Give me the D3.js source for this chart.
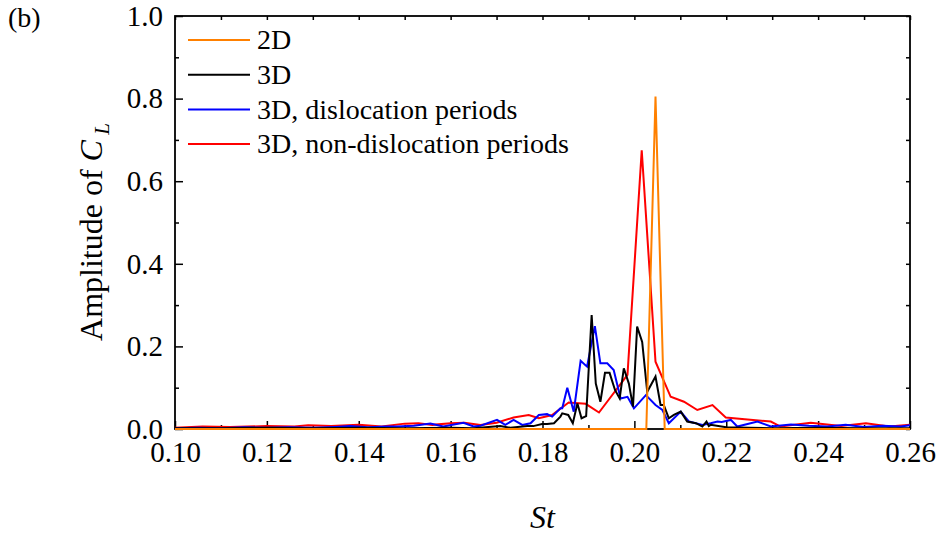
<!DOCTYPE html>
<html>
<head>
<meta charset="utf-8">
<script src="https://cdn.jsdelivr.net/npm/d3@7"></script>
<style>
  body { margin: 0; background: #fff; }
  .axis path { display: none; }
  .axis line { stroke: #000; stroke-width: 1.5; }
</style>
</head>
<body>
<svg id="chart" width="942" height="535"></svg>
<script>
const xMajor = [0.10, 0.12, 0.14, 0.16, 0.18, 0.20, 0.22, 0.24, 0.26];
const xMinor = [0.11, 0.13, 0.15, 0.17, 0.19, 0.21, 0.23, 0.25];
const yMajor = [0.0, 0.2, 0.4, 0.6, 0.8, 1.0];
const yMinor = [0.1, 0.3, 0.5, 0.7, 0.9];

const legendLabels = ["2D", "3D", "3D, dislocation periods", "3D, non-dislocation periods"];
const seriesColors = ["#ff8000", "#000000", "#0000ff", "#ff0000"];

// [St, amplitude]
const series2D = [
  [0.100, 0], [0.2026, 0], [0.2046, 0.805], [0.2066, 0], [0.260, 0]
];

const series3D = [
  [0.100, 0.002], [0.110, 0.002], [0.120, 0.003], [0.130, 0.002], [0.140, 0.003],
  [0.150, 0.002], [0.160, 0.003], [0.165, 0.002], [0.1708, 0.007], [0.173, 0.003],
  [0.1767, 0.007], [0.1780, 0.007], [0.1799, 0.012], [0.1810, 0.012], [0.1825, 0.014],
  [0.1839, 0.030], [0.1843, 0.038], [0.1856, 0.034], [0.1866, 0.014], [0.1876, 0.062],
  [0.1885, 0.026], [0.1895, 0.031], [0.1907, 0.276], [0.1916, 0.110], [0.1926, 0.066],
  [0.1936, 0.136], [0.1946, 0.136], [0.1958, 0.094], [0.1968, 0.074], [0.1977, 0.147],
  [0.1988, 0.110], [0.1997, 0.054], [0.2006, 0.248], [0.2017, 0.211], [0.2028, 0.090],
  [0.2046, 0.127], [0.2057, 0.058], [0.2064, 0.058], [0.2075, 0.026], [0.2086, 0.034],
  [0.2101, 0.042], [0.2115, 0.018], [0.2134, 0.014], [0.2148, 0.006], [0.2157, 0.018],
  [0.2162, 0.007], [0.2166, 0.010], [0.220, 0.004], [0.225, 0.003], [0.230, 0.002],
  [0.240, 0.003], [0.250, 0.002], [0.260, 0.002]
];

const series3DDisloc = [
  [0.100, 0.002], [0.105, 0.003], [0.110, 0.002], [0.115, 0.004], [0.120, 0.003],
  [0.125, 0.004], [0.130, 0.003], [0.135, 0.005], [0.1381, 0.007], [0.142, 0.004],
  [0.146, 0.006], [0.1483, 0.006], [0.152, 0.008], [0.1556, 0.013], [0.1584, 0.006],
  [0.1628, 0.015], [0.1650, 0.006], [0.1665, 0.008], [0.1701, 0.022], [0.1719, 0.010],
  [0.1737, 0.022], [0.1756, 0.010], [0.1774, 0.014], [0.1792, 0.034], [0.1810, 0.036],
  [0.1821, 0.030], [0.1839, 0.050], [0.1843, 0.050], [0.1854, 0.100], [0.1868, 0.042],
  [0.1883, 0.165], [0.1897, 0.151], [0.1914, 0.249], [0.1926, 0.159], [0.1941, 0.159],
  [0.1955, 0.143], [0.1970, 0.074], [0.1985, 0.078], [0.1999, 0.050], [0.2025, 0.082],
  [0.2046, 0.058], [0.2061, 0.046], [0.2075, 0.014], [0.2101, 0.042], [0.2119, 0.018],
  [0.2148, 0.010], [0.2166, 0.014], [0.2181, 0.018], [0.2190, 0.017], [0.2210, 0.022],
  [0.2224, 0.006], [0.2268, 0.018], [0.2297, 0.006], [0.2341, 0.011], [0.238, 0.008],
  [0.242, 0.006], [0.246, 0.010], [0.250, 0.005], [0.254, 0.008], [0.258, 0.006],
  [0.260, 0.009]
];

const series3DNonDisloc = [
  [0.100, 0.003], [0.106, 0.006], [0.112, 0.005], [0.120, 0.007], [0.126, 0.006],
  [0.129, 0.009], [0.134, 0.007], [0.140, 0.010], [0.145, 0.006], [0.150, 0.013],
  [0.153, 0.014], [0.156, 0.010], [0.160, 0.014], [0.163, 0.015], [0.1665, 0.010],
  [0.170, 0.015], [0.1737, 0.028], [0.177, 0.034], [0.1792, 0.026], [0.1821, 0.034],
  [0.1828, 0.040], [0.1857, 0.064], [0.1894, 0.061], [0.1923, 0.040], [0.1985, 0.131],
  [0.2016, 0.675], [0.2046, 0.163], [0.2079, 0.078], [0.2108, 0.066], [0.2137, 0.046],
  [0.2170, 0.058], [0.2199, 0.028], [0.2297, 0.018], [0.2318, 0.006], [0.2384, 0.015],
  [0.245, 0.007], [0.2504, 0.014], [0.2555, 0.006], [0.260, 0.010]
];

const margin = { top: 16, right: 32, bottom: 106, left: 175 };
const width = 942, height = 535;
const svg = d3.select("#chart");
const serif = '"Liberation Serif"';

const x = d3.scaleLinear().domain([0.10, 0.26]).range([margin.left, width - margin.right]);
const y = d3.scaleLinear().domain([0, 1.0]).range([height - margin.bottom, margin.top]);

const x0 = x.range()[0], x1 = x.range()[1], y0 = y.range()[0], y1 = y.range()[1];

// axes with inward ticks
svg.append("g").attr("class", "axis").attr("transform", `translate(0,${y0})`)
  .call(d3.axisBottom(x).tickValues(xMajor).tickSize(-8).tickPadding(12).tickFormat(d3.format(".2f")));
svg.append("g").attr("class", "axis").attr("transform", `translate(0,${y0})`)
  .call(d3.axisBottom(x).tickValues(xMinor).tickSize(-4).tickFormat(""));
svg.append("g").attr("class", "axis").attr("transform", `translate(0,${y1})`)
  .call(d3.axisTop(x).tickValues(xMajor.concat(xMinor)).tickSize(-4).tickFormat(""));

svg.append("g").attr("class", "axis").attr("transform", `translate(${x0},0)`)
  .call(d3.axisLeft(y).tickValues(yMajor).tickSize(-8).tickPadding(12).tickFormat(d3.format(".1f")));
svg.append("g").attr("class", "axis").attr("transform", `translate(${x0},0)`)
  .call(d3.axisLeft(y).tickValues(yMinor).tickSize(-4).tickFormat(""));
svg.append("g").attr("class", "axis").attr("transform", `translate(${x1},0)`)
  .call(d3.axisRight(y).tickValues(yMajor.concat(yMinor)).tickSize(-4).tickFormat(""));

svg.selectAll(".axis text").style("font-family", serif).style("font-size", "29px").attr("fill", "#000");

svg.append("rect")
  .attr("x", x0).attr("y", y1).attr("width", x1 - x0).attr("height", y0 - y1)
  .attr("fill", "none").attr("stroke", "#000").attr("stroke-width", 1.8);

const line = d3.line().x(d => x(d[0])).y(d => y(d[1]));

// drawing order: red, blue, black, orange on top
const drawOrder = [
  { data: series3DNonDisloc, color: seriesColors[3] },
  { data: series3DDisloc, color: seriesColors[2] },
  { data: series3D, color: seriesColors[1] },
  { data: series2D, color: seriesColors[0] }
];
drawOrder.forEach(s => {
  svg.append("path").datum(s.data)
    .attr("fill", "none").attr("stroke", s.color).attr("stroke-width", 2)
    .attr("stroke-linejoin", "miter").attr("d", line);
});

// legend
const legend = svg.append("g").attr("transform", `translate(${x0 + 13},40)`);
legendLabels.forEach((label, i) => {
  const g = legend.append("g").attr("transform", `translate(0,${i * 34.7})`);
  g.append("line").attr("x1", 0).attr("x2", 62).attr("y1", 0).attr("y2", 0)
    .attr("stroke", seriesColors[i]).attr("stroke-width", 2);
  g.append("text").attr("x", 69).attr("y", 0).attr("dy", "0.33em")
    .style("font-family", serif).style("font-size", "28px").text(label);
});

// axis titles
const yTitle = svg.append("text")
  .attr("transform", `translate(102,232) rotate(-90)`)
  .style("font-family", serif)
  .attr("text-anchor", "middle").style("font-size", "32px");
yTitle.append("tspan").text("Amplitude of ");
yTitle.append("tspan").style("font-style", "italic").text("C");
yTitle.append("tspan").style("font-style", "italic").style("font-size", "21px").attr("dy", 7).text(" L");

svg.append("text").attr("x", (x0 + x1) / 2).attr("y", 528).style("font-family", serif)
  .attr("text-anchor", "middle").style("font-size", "32px").style("font-style", "italic").text("St");

svg.append("text").attr("x", 8).attr("y", 27).style("font-family", serif)
  .style("font-size", "28px").text("(b)");
</script>
</body>
</html>
